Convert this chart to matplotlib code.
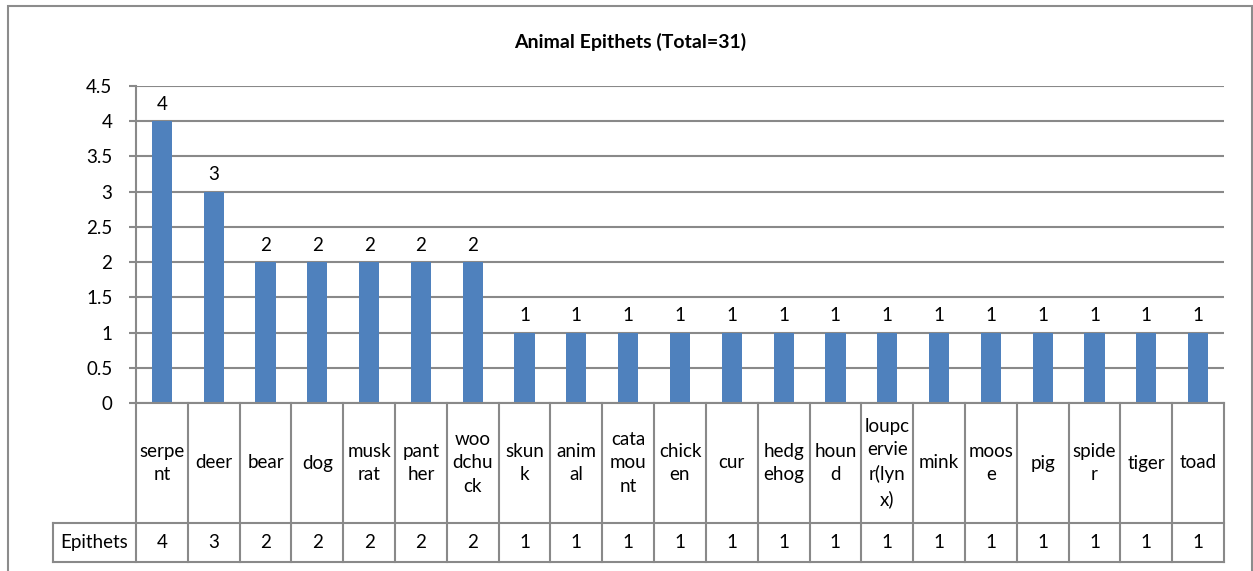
import matplotlib.pyplot as plt
from matplotlib.patches import Rectangle

plt.rcParams['font.family'] = ['Lato', 'DejaVu Sans']

# data
animals = ['serpent', 'deer', 'bear', 'dog', 'muskrat', 'panther', 'woodchuck',
           'skunk', 'animal', 'catamount', 'chicken', 'cur', 'hedgehog', 'hound',
           'loupcervier(lynx)', 'mink', 'moose', 'pig', 'spider', 'tiger', 'toad']
# labels wrapped the same way as in the table
labels = ['serpe\nnt', 'deer', 'bear', 'dog', 'musk\nrat', 'pant\nher', 'woo\ndchu\nck',
          'skun\nk', 'anim\nal', 'cata\nmou\nnt', 'chick\nen', 'cur', 'hedg\nehog', 'houn\nd',
          'loupc\nervie\nr(lyn\nx)', 'mink', 'moos\ne', 'pig', 'spide\nr', 'tiger', 'toad']
epithets = [4, 3, 2, 2, 2, 2, 2, 1, 1, 1, 1, 1, 1, 1, 1, 1, 1, 1, 1, 1, 1]
yticks = [0, 0.5, 1, 1.5, 2, 2.5, 3, 3.5, 4, 4.5]

W, H = 1253, 571
fig = plt.figure(figsize=(W / 100, H / 100), dpi=100)
grey = '#898989'
fs = 13.5

# outer chart border
fig.patches.append(Rectangle((8 / W, -0.1), 1244 / W, 1.1 - 6 / H, transform=fig.transFigure,
                             fill=False, edgecolor='#8c8c8c', lw=1.5))

x0, x1 = 136, 1224
y0, ytop = 403, 86
ax = fig.add_axes([x0 / W, (H - y0) / H, (x1 - x0) / W, (y0 - ytop) / H])
xs = range(len(animals))
ax.bar(xs, epithets, width=0.39, color='#4F81BD', zorder=3)
ax.set_xlim(-0.5, len(animals) - 0.5)
ax.set_ylim(0, 4.5)
ax.set_yticks(yticks)
ax.set_yticklabels(['%g' % t for t in yticks], fontsize=fs)
ax.set_xticks([])
ax.yaxis.grid(True, color=grey, lw=1.5)
ax.tick_params(axis='y', length=5, color=grey, width=1.5, pad=12)
for s in ['top', 'right', 'bottom']:
    ax.spines[s].set_visible(False)
ax.spines['left'].set_color(grey)
ax.spines['left'].set_linewidth(1.5)
for x, v in zip(xs, epithets):
    ax.text(x, v + 0.12, str(v), ha='center', va='bottom', fontsize=fs)

fig.text(630 / W, 1 - 42 / H, 'Animal Epithets (Total=31)', ha='center', va='center',
         fontsize=14, fontweight='bold')

# data table underneath
ymid, ybot = 523, 562
tab = fig.add_axes([x0 / W, (H - ybot) / H, (x1 - x0) / W, (ybot - y0) / H])
tab.set_xlim(-0.5, len(animals) - 0.5)
tab.set_ylim(ybot, y0)
tab.axis('off')
hx = -0.5 - (x0 - 53) / ((x1 - x0) / len(animals))
kw = dict(color=grey, lw=1.5, clip_on=False)
tab.plot([-0.5, len(animals) - 0.5], [y0, y0], **kw)
tab.plot([hx, len(animals) - 0.5], [ymid, ymid], **kw)
tab.plot([hx, len(animals) - 0.5], [ybot, ybot], **kw)
tab.plot([hx, hx], [ymid, ybot], **kw)
for i in range(len(animals) + 1):
    tab.plot([i - 0.5, i - 0.5], [y0, ybot], **kw)
for i, (lab, v) in enumerate(zip(labels, epithets)):
    tab.text(i, (y0 + ymid) / 2, lab, ha='center', va='center', fontsize=fs, linespacing=1.45)
    tab.text(i, (ymid + ybot) / 2, str(v), ha='center', va='center', fontsize=fs)
tab.text((hx - 0.5) / 2, (ymid + ybot) / 2, 'Epithets', ha='center', va='center', fontsize=fs)

fig.savefig('out.png', dpi=100)
